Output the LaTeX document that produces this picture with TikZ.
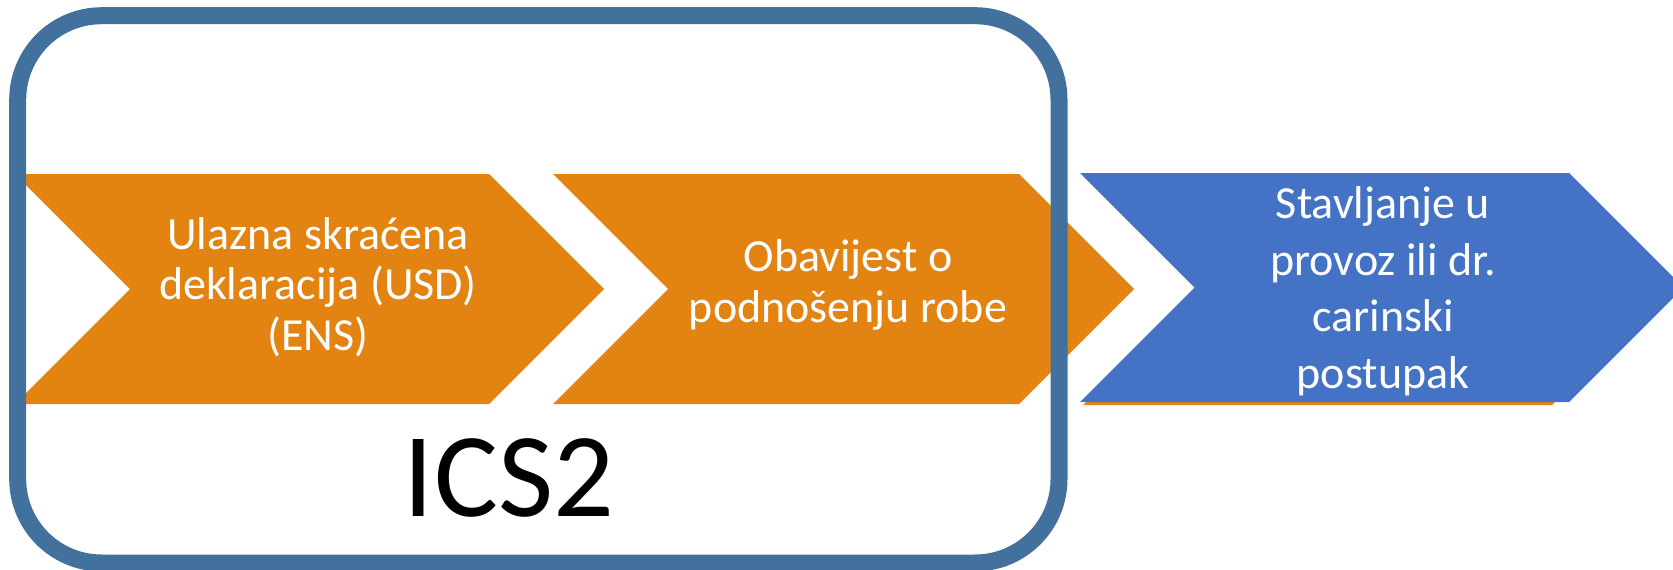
\documentclass[tikz,border=0pt]{standalone}
\usepackage{fontspec}
\setmainfont{Carlito}
\definecolor{orng}{HTML}{E38312}
\definecolor{chevblue}{HTML}{4472C4}
\definecolor{framblue}{HTML}{41719C}
\begin{document}
\begin{tikzpicture}[x=1pt,y=-1pt,
  lbl/.style={text=white, align=center, inner sep=0pt, anchor=base},
  lblo/.style={lbl, font=\fontsize{46}{50.5}\selectfont},
  lblb/.style={lbl, font=\fontsize{46}{56.5}\selectfont},
  ochev/.style={fill=orng, draw=none},
  bchev/.style={fill=chevblue, draw=none},
  frame/.style={draw=framblue, line width=17pt, rounded corners=84pt}]
\useasboundingbox (0,0) rectangle (1673,570);
\begin{scope}
\clip (0,0) rectangle (1673,570);
% chevrons
\path[ochev] (15,174) -- (489,174) -- (604,289) -- (489,404) -- (15,404) -- (130,289) -- cycle;
\path[ochev] (553,174) -- (1019,174) -- (1134,289) -- (1019,404) -- (553,404) -- (668,289) -- cycle;
\path[ochev] (1083,176) -- (1552,176) -- (1667,290.5) -- (1552,405) -- (1083,405) -- (1198,290.5) -- cycle;
\path[bchev] (1080,173) -- (1569,173) -- (1683.5,287.5) -- (1569,402) -- (1080,402) -- (1194.5,287.5) -- cycle;
% frame
\draw[frame] (17.7,15.7) rectangle (1059,563);
\end{scope}
% texts (base anchor = baseline of the last line)
\node[lblo] (ens) at (318,350) {Ulazna skraćena\\deklaracija (USD)\\(ENS)};
\node[lblo] (obav) at (848,322) {Obavijest o\\podnošenju robe};
\node[lblb] (stav) at (1383,388) {Stavljanje u\\provoz ili dr.\\carinski\\postupak};
\node[anchor=base, inner sep=0pt, font=\fontsize{120}{144}\selectfont] (ics) at (509,516) {ICS2};
\end{tikzpicture}
\end{document}
